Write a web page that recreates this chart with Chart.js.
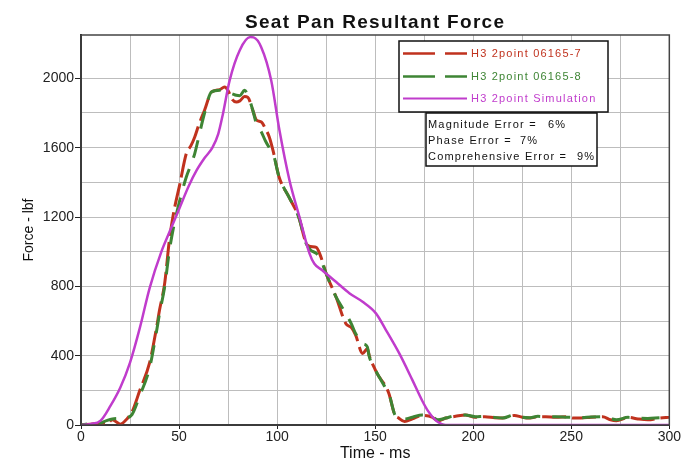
<!DOCTYPE html>
<html>
<head>
<meta charset="utf-8">
<script src="https://cdn.jsdelivr.net/npm/chart.js@4.4.1/dist/chart.umd.min.js"></script>
<style>
  html, body { margin: 0; padding: 0; background: #ffffff; }
  #wrap { width: 681px; height: 463px; }
</style>
</head>
<body>
<div id="wrap"><canvas id="c" width="681" height="463"></canvas></div>
<script>
// ---------- data ----------
const chartTitle = 'Seat Pan Resultant Force';
const xTitle = 'Time - ms';
const yTitle = 'Force - lbf';
const seriesNames = ['H3 2point 06165-7', 'H3 2point 06165-8', 'H3 2point Simulation'];
const errorLabels = ['Magnitude Error =', 'Phase Error =', 'Comprehensive Error ='];
const errorValues = ['6%', '7%', '9%'];

const timeTest = [0, 5, 10, 13, 16, 20, 23, 26, 30, 35, 38.5, 40, 42.7, 45, 47, 50.4, 53.7, 56, 58, 60, 63, 66.5, 70.7, 73.2, 75, 77, 79.2, 81, 83.4, 85.1, 87.6, 89.4, 92, 94, 96, 98, 101, 106, 111, 114.8, 117, 120, 122, 125, 130, 135, 138, 140, 143.6, 146, 147, 150, 152, 155, 157, 160, 162, 165, 169, 174, 179, 182, 186, 191, 196, 201, 206, 211, 215, 221, 225, 229, 233, 237, 242, 248, 251, 255, 260, 266, 270, 273, 279, 284, 289, 295, 300];
const forceRed = [0, 5, 10, 5, 30, 5, 30, 75, 200, 360, 560, 660, 820, 1060, 1210, 1390, 1566, 1610, 1662, 1730, 1816, 1920, 1935, 1950, 1930, 1880, 1863, 1870, 1895, 1890, 1816, 1760, 1748, 1710, 1662, 1580, 1431, 1316, 1200, 1050, 1030, 1025, 980, 874, 740, 586, 560, 520, 413, 440, 400, 320, 278, 230, 182, 60, 40, 20, 35, 55, 45, 25, 40, 50, 58, 45, 48, 42, 40, 55, 45, 40, 48, 48, 44, 48, 40, 40, 45, 48, 30, 25, 44, 35, 30, 40, 44];
const forceGreen = [0, 8, 12, 25, 35, 38, 42, 60, 170, 330, 540, 640, 800, 1000, 1130, 1297, 1431, 1500, 1566, 1660, 1800, 1921, 1931, 1925, 1918, 1911, 1902, 1900, 1931, 1902, 1816, 1740, 1690, 1640, 1600, 1566, 1431, 1316, 1200, 1047, 1010, 990, 960, 874, 740, 644, 580, 528, 470, 451, 394, 320, 278, 220, 182, 60, 40, 35, 45, 58, 48, 30, 40, 55, 58, 48, 50, 44, 40, 58, 45, 42, 50, 48, 48, 45, 44, 42, 46, 48, 38, 30, 44, 40, 38, 42, 44];

const timeSim = [0, 5, 10, 15, 20, 25, 30, 35, 41, 45, 50, 55, 59, 63, 67, 70, 72.4, 75.8, 80.9, 86.3, 88, 91.9, 97, 101.2, 106.3, 111.4, 116.5, 119, 123, 130, 137, 143.6, 150.4, 155.5, 162.3, 169, 174, 177, 181, 184, 186, 300];
const forceSim = [0, 6, 25, 110, 215, 360, 560, 790, 1000, 1110, 1245, 1380, 1470, 1540, 1600, 1680, 1796, 1988, 2161, 2238, 2236, 2180, 1988, 1700, 1412, 1200, 990, 930, 893, 826, 759, 711, 644, 548, 413, 259, 140, 80, 25, 5, 0, 0];

const xTicks = { min: 0, max: 300, step: 25, labelEvery: 50 };
const yTicks = { min: 0, max: 2250, step: 200, labelEvery: 400 };

const colors = ['#c0321e', '#3e8534', '#c03ccc'];

// ---------- helpers ----------
const toPoints = (xs, ys) => xs.map((x, i) => ({ x: x, y: ys[i] }));
const FONT = '"Liberation Sans", Arial, Helvetica, sans-serif';
Chart.defaults.font.family = FONT;

const overlayPlugin = {
  id: 'overlay',
  afterDraw(chart) {
    const ctx = chart.ctx;
    const a = chart.chartArea;
    ctx.save();
    // plot border (top/right)
    ctx.strokeStyle = '#444444';
    ctx.lineWidth = 1.5;
    ctx.strokeRect(a.left, a.top, a.right - a.left, a.bottom - a.top);

    // title
    ctx.fillStyle = '#111111';
    ctx.font = 'bold 19px ' + FONT;
    ctx.textAlign = 'center';
    ctx.textBaseline = 'alphabetic';
    try { ctx.letterSpacing = '1.3px'; } catch (e) {}
    ctx.fillText(chartTitle, (a.left + a.right) / 2, 28);

    // legend box
    try { ctx.letterSpacing = '1.2px'; } catch (e) {}
    ctx.fillStyle = '#ffffff';
    ctx.fillRect(399, 41, 209, 71);
    ctx.strokeStyle = '#111111';
    ctx.lineWidth = 1.5;
    ctx.strokeRect(399, 41, 209, 71);
    const rows = [53.5, 76.5, 98.5];
    const dashes = [[32, 10], [32, 10], []];
    ctx.font = '11px ' + FONT;
    ctx.textAlign = 'left';
    ctx.textBaseline = 'middle';
    for (let i = 0; i < 3; i++) {
      ctx.strokeStyle = colors[i];
      ctx.lineWidth = i === 2 ? 2 : 2.5;
      ctx.setLineDash(dashes[i]);
      ctx.beginPath();
      ctx.moveTo(403, rows[i]);
      ctx.lineTo(467, rows[i]);
      ctx.stroke();
      ctx.setLineDash([]);
      ctx.fillStyle = colors[i];
      ctx.fillText(seriesNames[i], 471, rows[i] + 0.5);
    }

    // error box
    ctx.fillStyle = '#ffffff';
    ctx.fillRect(426, 113, 171, 53);
    ctx.strokeStyle = '#111111';
    ctx.lineWidth = 1.5;
    ctx.strokeRect(426, 113, 171, 53);
    const erows = [124.5, 140.5, 156.5];
    const vx = [548, 520, 577];
    ctx.fillStyle = '#111111';
    for (let i = 0; i < 3; i++) {
      ctx.fillText(errorLabels[i], 428, erows[i]);
      ctx.fillText(errorValues[i], vx[i], erows[i]);
    }
    ctx.restore();
  }
};

new Chart(document.getElementById('c'), {
  type: 'line',
  data: {
    datasets: [
      {
        label: seriesNames[0],
        data: toPoints(timeTest, forceRed),
        borderColor: colors[0],
        borderWidth: 3,
        borderDash: [24, 6],
        pointRadius: 0,
        cubicInterpolationMode: 'monotone',
        fill: false,
        order: 3
      },
      {
        label: seriesNames[1],
        data: toPoints(timeTest, forceGreen),
        borderColor: colors[1],
        borderWidth: 3,
        borderDash: [18, 12],
        borderDashOffset: 12,
        pointRadius: 0,
        cubicInterpolationMode: 'monotone',
        fill: false,
        order: 2
      },
      {
        label: seriesNames[2],
        data: toPoints(timeSim, forceSim),
        borderColor: colors[2],
        borderWidth: 2.5,
        pointRadius: 0,
        cubicInterpolationMode: 'monotone',
        fill: false,
        order: 1
      }
    ]
  },
  options: {
    responsive: false,
    animation: false,
    devicePixelRatio: 1,
    layout: { padding: { top: 35, right: 10, left: 0, bottom: 0 } },
    plugins: {
      legend: { display: false },
      title: { display: false },
      tooltip: { enabled: false }
    },
    scales: {
      x: {
        type: 'linear',
        min: xTicks.min,
        max: xTicks.max,
        afterFit(s) { s.height = 38; },
        ticks: {
          stepSize: xTicks.step,
          autoSkip: false,
          maxRotation: 0,
          padding: 0,
          color: '#222222',
          font: { size: 14 },
          callback: (v) => (v % xTicks.labelEvery === 0 ? String(v) : '')
        },
        grid: {
          color: '#bdbdbd',
          lineWidth: 1,
          tickLength: 4,
          tickColor: (c) => (c.tick && c.tick.value % xTicks.labelEvery === 0 ? '#222222' : 'rgba(0,0,0,0)')
        },
        border: { color: '#222222', width: 2 },
        title: {
          display: true,
          text: xTitle,
          color: '#111111',
          font: { size: 16 },
          padding: { top: 0, bottom: 0 }
        }
      },
      y: {
        type: 'linear',
        min: yTicks.min,
        max: yTicks.max,
        afterFit(s) { s.width = 81; },
        afterBuildTicks(s) { s.ticks = s.ticks.filter(t => t.value % yTicks.step === 0); },
        ticks: {
          stepSize: yTicks.step,
          autoSkip: false,
          padding: 1,
          color: '#222222',
          font: { size: 14 },
          callback: (v) => (v % yTicks.labelEvery === 0 ? String(v) : '')
        },
        grid: {
          color: '#bdbdbd',
          lineWidth: 1,
          tickLength: 6,
          tickColor: (c) => (c.tick && c.tick.value % yTicks.labelEvery === 0 ? '#222222' : 'rgba(0,0,0,0)')
        },
        border: { color: '#222222', width: 2 },
        title: {
          display: true,
          text: yTitle,
          color: '#111111',
          font: { size: 14 },
          padding: { top: 21, bottom: 0 }
        }
      }
    }
  },
  plugins: [overlayPlugin]
});
</script>
</body>
</html>
